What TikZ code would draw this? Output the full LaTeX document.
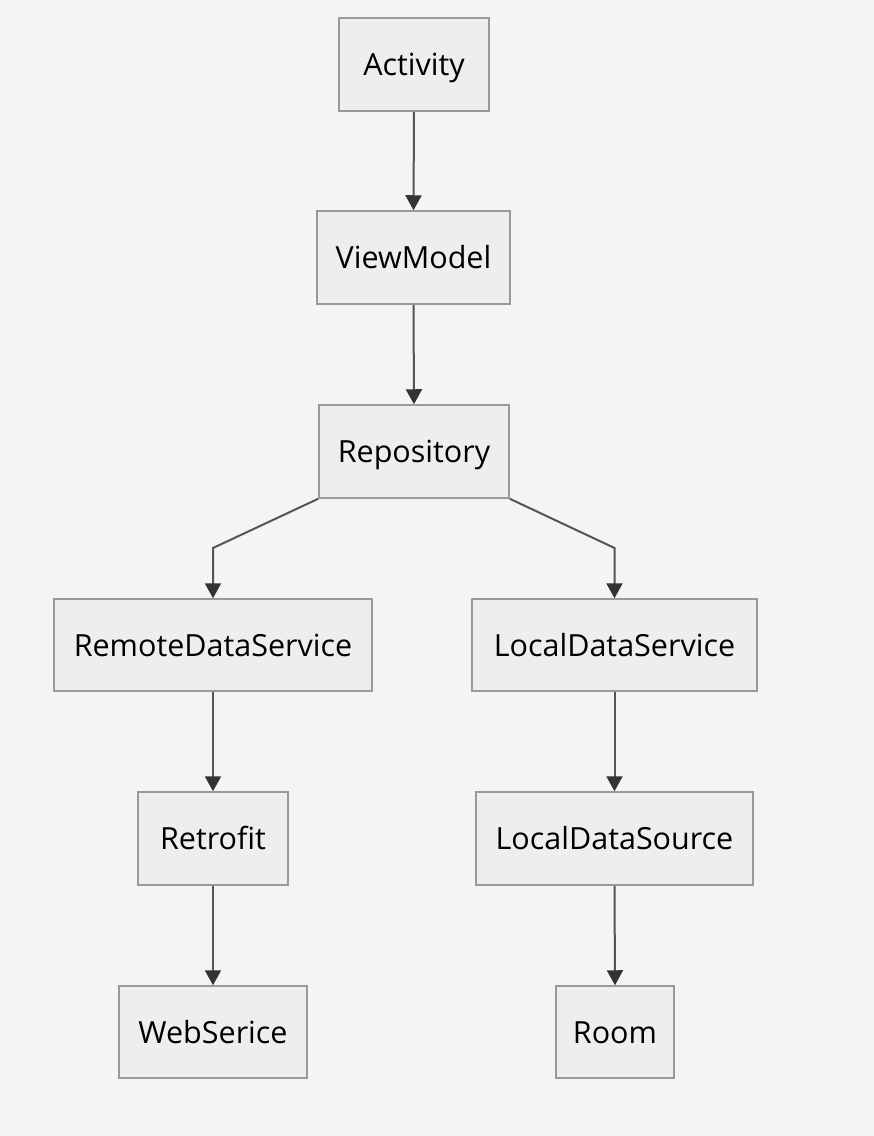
\documentclass[tikz,border=0pt]{standalone}
\usepackage{fontspec}
\setmainfont{Open Sans}
\usetikzlibrary{arrows.meta}
\definecolor{bg}{HTML}{F4F4F4}
\definecolor{nodefill}{HTML}{EEEEEE}
\definecolor{nodeborder}{HTML}{999999}
\definecolor{edgecol}{HTML}{555555}
\definecolor{tipcol}{HTML}{333333}
\tikzset{
  box/.style={draw=nodeborder, fill=nodefill, line width=1.5pt, inner sep=0pt,
    text height=25pt, text depth=3pt,
    font=\fontsize{30.5}{36}\selectfont, text=black},
  edge/.style={draw=edgecol, line width=2pt,
    -{Triangle[length=15pt,width=16pt,color=tipcol]}}
}
\begin{document}
\begin{tikzpicture}[x=1pt,y=-1pt]
\fill[bg] (0,0) rectangle (874,1136);
\useasboundingbox (0,0) rectangle (874,1136);
\node[box, minimum width=150pt, minimum height=93pt] (act) at (414,64.5) {Activity};
\node[box, minimum width=193pt, minimum height=93pt] (vm) at (413.5,257.5) {ViewModel};
\node[box, minimum width=190pt, minimum height=93pt] (repo) at (414,451.5) {Repository};
\node[box, minimum width=318pt, minimum height=92pt] (rds) at (213,645) {RemoteDataService};
\node[box, minimum width=285pt, minimum height=92pt] (lds) at (614.5,645) {LocalDataService};
\node[box, minimum width=150pt, minimum height=93pt] (retro) at (213,838.5) {Retrofit};
\node[box, minimum width=277pt, minimum height=93pt] (ldsrc) at (614.5,838.5) {LocalDataSource};
\node[box, minimum width=188pt, minimum height=92pt] (web) at (213,1032) {WebSerice};
\node[box, minimum width=118pt, minimum height=92pt] (room) at (615,1032) {Room};
\coordinate (bl) at (213,548);
\coordinate (br) at (614.5,548);
\draw[edge] (act.south) -- (vm.north);
\draw[edge] (vm.south) -- (repo.north);
\draw[edge] (repo.south west) -- (bl) -- (rds.north);
\draw[edge] (repo.south east) -- (br) -- (lds.north);
\draw[edge] (rds.south) -- (retro.north);
\draw[edge] (retro.south) -- (web.north);
\draw[edge] (lds.south) -- (ldsrc.north);
\draw[edge] (ldsrc.south) -- (room.north);
\end{tikzpicture}
\end{document}
